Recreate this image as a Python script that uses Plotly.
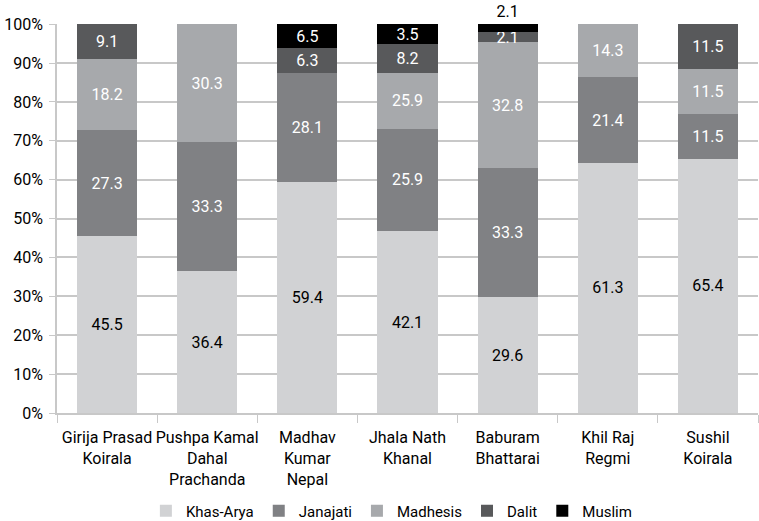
import plotly.graph_objects as go

categories = [
    "Girija Prasad<br>Koirala",
    "Pushpa Kamal<br>Dahal<br>Prachanda",
    "Madhav<br>Kumar<br>Nepal",
    "Jhala Nath<br>Khanal",
    "Baburam<br>Bhattarai",
    "Khil Raj<br>Regmi",
    "Sushil<br>Koirala",
]

series_names = ["Khas-Arya", "Janajati", "Madhesis", "Dalit", "Muslim"]

# segment heights (share of bar, %) as drawn
khas_share = [45.5, 36.4, 59.4, 46.8, 29.8, 64.4, 65.4]
janajati_share = [27.3, 33.3, 28.1, 26.3, 33.3, 21.9, 11.5]
madhesis_share = [18.2, 30.3, 0.0, 14.4, 32.2, 13.7, 11.5]
dalit_share = [9.0, 0.0, 6.3, 7.4, 2.8, 0.0, 11.6]
muslim_share = [0.0, 0.0, 6.2, 5.1, 1.9, 0.0, 0.0]

# printed labels
khas_label = ["45.5", "36.4", "59.4", "42.1", "29.6", "61.3", "65.4"]
janajati_label = ["27.3", "33.3", "28.1", "25.9", "33.3", "21.4", "11.5"]
madhesis_label = ["18.2", "30.3", "", "25.9", "32.8", "14.3", "11.5"]
dalit_label = ["9.1", "", "6.3", "8.2", "2.1", "", "11.5"]
muslim_label = ["", "", "6.5", "3.5", "2.1", "", ""]

y_ticks = [0, 10, 20, 30, 40, 50, 60, 70, 80, 90, 100]
y_tick_text = [f"{v}%" for v in y_ticks]

colors = ["#d1d2d4", "#808184", "#a7a9ac", "#58595b", "#000000"]
text_colors = ["#000000", "#ffffff", "#ffffff", "#ffffff", "#ffffff"]

FONT = "Roboto, Liberation Sans Narrow, sans-serif"
FS = 16

shares = [khas_share, janajati_share, madhesis_share, dalit_share, muslim_share]
labels = [khas_label, janajati_label, madhesis_label, dalit_label, muslim_label]

fig = go.Figure()
for i, name in enumerate(series_names):
    if name == "Muslim":
        positions = ["outside" if (s > 0 and s < 3) else "inside" for s in shares[i]]
    else:
        positions = "inside"
    fig.add_trace(go.Bar(
        name=name,
        x=categories,
        y=shares[i],
        text=labels[i],
        textposition=positions,
        insidetextanchor="middle",
        textangle=0,
        constraintext="none",
        cliponaxis=False,
        textfont=dict(family=FONT, size=FS, color=text_colors[i]),
        insidetextfont=dict(family=FONT, size=FS, color=text_colors[i]),
        outsidetextfont=dict(family=FONT, size=FS, color="#000000"),
        marker=dict(color=colors[i], line=dict(width=0)),
        hoverinfo="skip",
    ))

fig.update_layout(
    barmode="stack",
    bargap=0.4,
    width=759,
    height=521,
    margin=dict(l=57, r=1, t=24, b=108, autoexpand=False),
    paper_bgcolor="white",
    plot_bgcolor="white",
    font=dict(family=FONT, size=FS, color="#000000"),
    showlegend=True,
    legend=dict(
        orientation="h",
        x=0.477, xanchor="center",
        y=-0.252, yanchor="middle",
        font=dict(family=FONT, size=15, color="#000000"),
        traceorder="normal",
    ),
)

fig.update_yaxes(
    range=[0, 100.05],
    tickmode="array",
    tickvals=y_ticks,
    ticktext=y_tick_text,
    showgrid=True,
    gridcolor="#c8c8c8",
    gridwidth=1.5,
    showline=True,
    linecolor="#c8c8c8",
    linewidth=1.5,
    ticks="outside",
    ticklen=6,
    tickcolor="#c8c8c8",
    ticklabelstandoff=3,
    tickfont=dict(family=FONT, size=FS, color="#000000"),
    zeroline=False,
    automargin=False,
    fixedrange=True,
)

fig.update_xaxes(
    showline=True,
    linecolor="#c8c8c8",
    linewidth=1.5,
    ticks="outside",
    tickson="boundaries",
    ticklen=8,
    tickangle=0,
    ticklabelstandoff=9,
    tickcolor="#c8c8c8",
    tickfont=dict(family=FONT, size=FS, color="#000000"),
    showgrid=False,
    automargin=False,
    fixedrange=True,
)

fig.write_html(
    "out.html",
    config={"displayModeBar": False},
    post_script="document.body.style.margin='0px';document.body.style.overflow='hidden';",
)
